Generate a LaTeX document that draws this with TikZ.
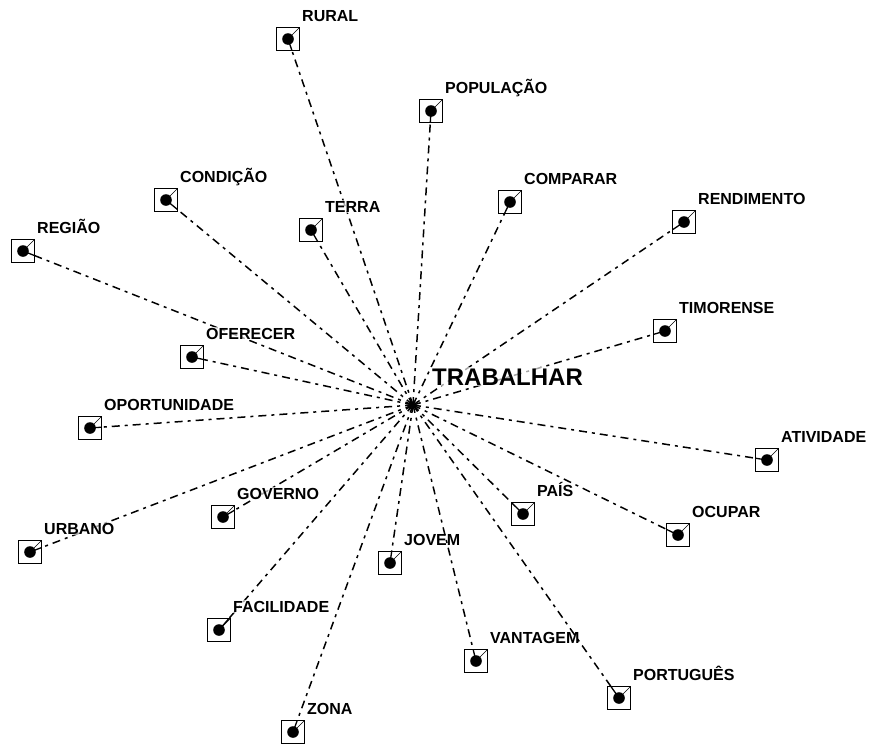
\documentclass[tikz,border=0pt]{standalone}
\usepackage{fontspec}
\setmainfont{Liberation Sans}
\begin{document}
\begin{tikzpicture}[x=1pt,y=-1pt,
  edge/.style={line width=1.5pt, dash pattern=on 8pt off 5pt on 3pt off 5pt},
  term/.style={draw, line width=1pt, minimum size=23pt, inner sep=0pt, outer sep=0pt},
  termlabel/.style={anchor=base west, font=\bfseries\fontsize{16}{18}\selectfont,
    inner sep=1pt, fill=white, fill opacity=0.65, text opacity=1},
  hub/.style={anchor=base west, font=\bfseries\fontsize{24}{28}\selectfont,
    inner sep=1pt, fill=white, fill opacity=0.65, text opacity=1},
]
\useasboundingbox (0,0) rectangle (872,745);

% central word and the point all links start from
\coordinate (T) at (413,405);

% terms: name / x / y / text
\foreach \n/\x/\y/\t in {
  rural/288/39/RURAL,
  populacao/431/111/POPULAÇÃO,
  condicao/166/200/CONDIÇÃO,
  terra/311/230/TERRA,
  comparar/510/202/COMPARAR,
  rendimento/684/222/RENDIMENTO,
  regiao/23/251/REGIÃO,
  timorense/665/331/TIMORENSE,
  oferecer/192/357/OFERECER,
  oportunidade/90/428/OPORTUNIDADE,
  atividade/767/460/ATIVIDADE,
  pais/523/514/PAÍS,
  ocupar/678/535/OCUPAR,
  governo/223/517/GOVERNO,
  urbano/30/552/URBANO,
  jovem/390/563/JOVEM,
  facilidade/219/630/FACILIDADE,
  vantagem/476/661/VANTAGEM,
  portugues/619/698/PORTUGUÊS,
  zona/293/732/ZONA}
{
  \node[term] (\n) at (\x,\y) {};
  \draw[edge] (T) -- (\n) coordinate[pos=1] (\n-in);
  \draw[line width=1.3pt] (\n.center) -- (\n-in);
  \fill (\n.center) circle (5.8pt);
  \draw[line width=0.6pt] (\n.center) -- (\n.north east);
  \node[termlabel] (\n-lab) at (\x+13,\y-18) {\t};
}

\node[hub] (hub) at (431,385) {TRABALHAR};
\end{tikzpicture}
\end{document}
